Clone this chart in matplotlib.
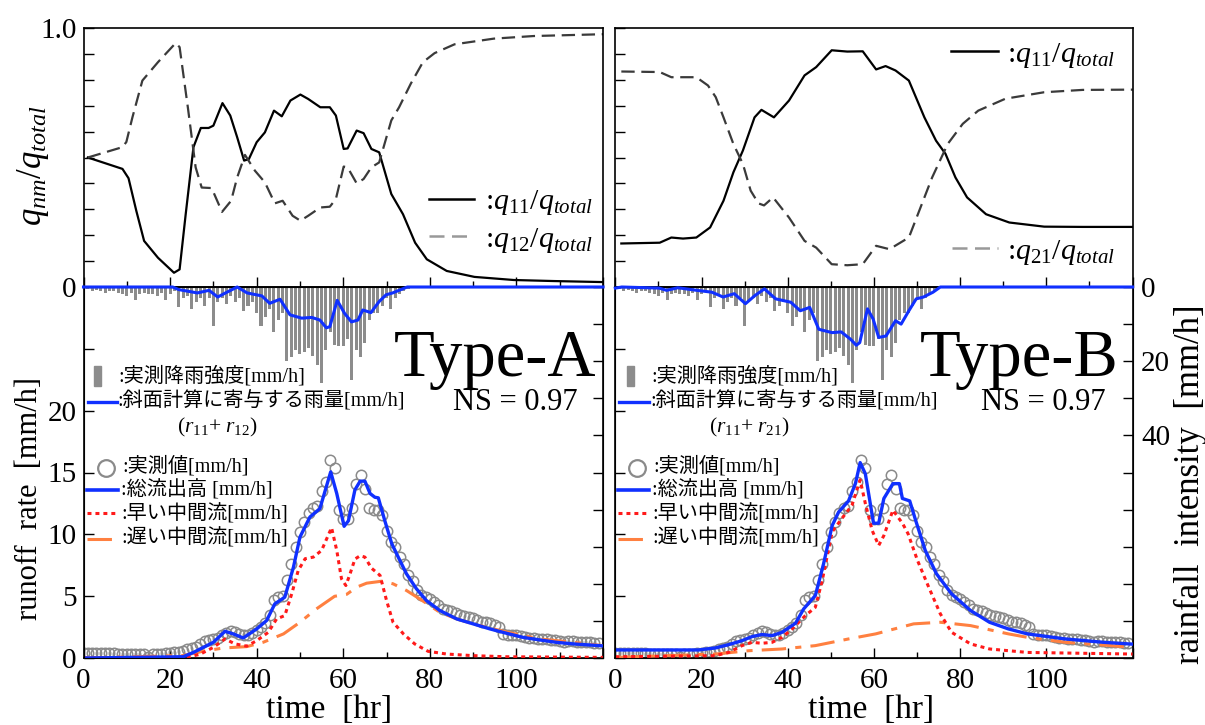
import numpy as np
import matplotlib
matplotlib.use('Agg')
import matplotlib.pyplot as plt
from matplotlib.patches import Rectangle

plt.rcParams['font.family'] = ['Liberation Serif', 'Noto Sans CJK JP']
plt.rcParams['mathtext.fontset'] = 'custom'
plt.rcParams['mathtext.rm'] = 'Liberation Serif'
plt.rcParams['mathtext.it'] = 'Liberation Serif:italic'
plt.rcParams['mathtext.bf'] = 'Liberation Serif:bold'

# ---- 流出成分の比率 (上段) ----
tA_q11 = [1, 9, 10.4, 12.2, 14, 17.2, 20.9, 22.2, 23.6, 25.4, 27.1, 28.9, 30, 32.1, 33.9, 35.5, 37.1, 38.2, 40, 41.9,
          44, 45.8, 47.8, 50.1, 51.9, 54.7, 56.9, 58.3, 60.1, 61, 63.1, 64.7, 66.5, 68.3, 71.1, 72, 73.8, 76.6, 79.3, 83.9,
          90.3, 99.4, 108.6, 120]
q11A = [0.50, 0.456, 0.42, 0.294, 0.178, 0.113, 0.055, 0.068, 0.28, 0.54, 0.614, 0.614, 0.623, 0.71, 0.662, 0.578, 0.488, 0.494, 0.559, 0.597,
        0.681, 0.659, 0.72, 0.743, 0.726, 0.694, 0.694, 0.662, 0.533, 0.535, 0.604, 0.594, 0.533, 0.52, 0.359, 0.333, 0.281, 0.171, 0.107, 0.062,
        0.039, 0.027, 0.023, 0.019]
tA_q12 = [1, 9, 9.9, 11.3, 13.6, 17.2, 21.3, 22.2, 24.1, 25.9, 27.3, 29.6, 32, 34.1, 35.5, 37.3, 39.6, 41.9, 44.2, 46,
          48.3, 50.1, 51.9, 54.7, 56.9, 58.3, 60.1, 61, 63.1, 64.7, 66.5, 68.3, 71.1, 72.9, 75.6, 78.4, 81.1, 85.7, 94.8, 104, 120]
q12A = [0.50, 0.54, 0.56, 0.655, 0.797, 0.868, 0.942, 0.926, 0.694, 0.462, 0.384, 0.382, 0.29, 0.333, 0.423, 0.51, 0.449, 0.404, 0.323, 0.333,
        0.275, 0.256, 0.275, 0.307, 0.31, 0.34, 0.465, 0.462, 0.4, 0.417, 0.462, 0.481, 0.643, 0.694, 0.785, 0.868, 0.903, 0.937, 0.959, 0.969, 0.976]

tB_q11 = [1.4, 10.3, 13, 15.7, 18.8, 22, 25.1, 27.4, 29.6, 32.3, 33.9, 36.8, 40.3, 43.9, 46.6, 50.2, 53.8, 57.4, 60.5, 62.7,
          65, 68.1, 71.7, 74.4, 76.6, 78.9, 81.6, 86, 91.4, 99.5, 108.4, 120]
q11B = [0.168, 0.171, 0.191, 0.187, 0.191, 0.23, 0.333, 0.443, 0.527, 0.655, 0.684, 0.655, 0.72, 0.817, 0.849, 0.914, 0.909, 0.91, 0.84, 0.853,
        0.836, 0.797, 0.655, 0.565, 0.514, 0.423, 0.346, 0.281, 0.249, 0.233, 0.232, 0.232]
tB_q21 = [1.4, 10.3, 13, 18.8, 21.5, 23.3, 25.1, 27.4, 29.6, 31.4, 33.2, 34.5, 36.6, 40.3, 43.9, 46.6, 50.2, 53.8, 57.4, 60.5,
          63.6, 68.1, 70.8, 73.5, 77.1, 80.6, 84.2, 90.5, 99.5, 108.4, 120]
q21B = [0.832, 0.83, 0.81, 0.81, 0.778, 0.733, 0.655, 0.552, 0.475, 0.372, 0.323, 0.315, 0.346, 0.268, 0.178, 0.152, 0.088, 0.084, 0.088, 0.159,
        0.146, 0.191, 0.307, 0.423, 0.552, 0.63, 0.681, 0.727, 0.752, 0.761, 0.762]

# ---- 降雨 ----
rain_obs = [0.5, 0.5, 1.0, 0.8, 1.0, 1.5, 1.2, 1.0, 1.5, 2.0,
            2.5, 1.5, 3.5, 2.0, 1.5, 2.0, 2.0, 2.5, 1.5, 3.5,
            2.0, 1.0, 5.5, 3.0, 2.5, 6.0, 4.0, 3.0, 5.0, 3.0,
            10.5, 4.0, 3.0, 4.5, 2.5, 4.0, 3.0, 6.5, 5.0, 4.0,
            7.0, 10.5, 8.0, 6.0, 12.0, 9.0, 7.0, 20.0, 19.0, 17.0,
            18.0, 17.5, 16.5, 18.5, 21.0, 26.0, 17.0, 12.0, 15.5, 16.0,
            16.0, 14.0, 25.0, 17.0, 19.0, 15.0, 9.0, 7.0, 7.0, 5.0,
            3.0, 6.0, 3.0, 2.0, 1.0, 0.5]
t_rain = np.arange(len(rain_obs))

tA_r = [0, 20.6, 22, 24.4, 26.3, 29, 31, 32.8, 35.5, 37.8, 41.2, 43, 45.4, 47.7, 50.4, 52.7, 54.6, 56.1, 56.9, 58.6,
        60.3, 61.9, 63.4, 64.5, 66.4, 68.3, 69.9, 71.4, 73.3, 74.8, 120]
rA = [0, 0, 0.7, 1.2, 1.6, 0.9, 2.7, 1.6, 0, 1.6, 2.4, 4.4, 3.3, 7.5, 8.4, 8.2, 8.9, 11, 10.7, 3.6,
      7.1, 9.4, 8.9, 6.2, 6.9, 3.9, 2.1, 1.6, 0.7, 0, 0]
tB_r = [0, 1.5, 10.2, 11.9, 14.5, 18.9, 22.4, 25, 27.6, 30.2, 32.4, 34.6, 37.2, 40.7, 42.9, 45.1, 47.2, 50.3, 52.4, 54.6,
        55.9, 56.7, 58.5, 59.8, 61.1, 62.8, 65, 66.3, 68.1, 69.8, 71.5, 73.7, 75.4, 120]
rB = [0.3, 0, 0.3, 0.9, 0.2, 0.9, 1.4, 2.7, 1.8, 4.5, 2.3, 0.5, 3.2, 4.1, 6.4, 5.5, 11.4, 12.3, 12.1, 14.1,
      15.7, 15, 5.9, 8.6, 13.6, 13.2, 9.1, 10, 6.4, 3.2, 2.7, 1.4, 0, 0]

# ---- 流出高 ----
q_obs = [0.4, 0.4, 0.4, 0.4, 0.4, 0.4, 0.4, 0.4, 0.35, 0.35,
         0.35, 0.35, 0.3, 0.3, 0.3, 0.1, 0.3, 0.35, 0.35, 0.4,
         0.4, 0.45, 0.5, 0.6, 0.7, 0.8, 0.9, 1.1, 1.35, 1.45,
         1.5, 1.6, 1.85, 2.0, 2.15, 2.1, 1.95, 1.9, 1.9, 2.0,
         2.25, 2.5, 2.8, 3.5, 4.7, 4.9, 5.0, 6.3, 7.6, 9.0,
         10.2, 11.0, 11.7, 12.1, 12.3, 13.5, 14.2, 16.0, 15.4, 12.0,
         11.2, 11.2, 12.1, 14.1, 14.8, 13.7, 12.1, 12.0, 12.0, 11.6,
         10.3, 9.4, 9.0, 8.2, 7.6, 6.7, 6.2, 5.5, 5.1, 4.9,
         4.8, 4.5, 4.25, 4.0, 3.9, 3.8, 3.6, 3.5, 3.4, 3.3,
         3.2, 3.05, 2.95, 2.9, 2.8, 2.7, 2.5, 1.95, 1.9, 1.9,
         1.9, 1.8, 1.7, 1.65, 1.6, 1.55, 1.5, 1.5, 1.45, 1.45,
         1.4, 1.3, 1.35, 1.4, 1.3, 1.3, 1.27, 1.27, 1.25, 1.25]
t_obs = np.arange(len(q_obs))

tA_tot = [0, 23, 25.4, 27.7, 30, 32.7, 34.6, 36.9, 40, 42.3, 44.2, 46.5, 48.5, 50, 52.3, 54.6, 57.1, 58.5, 60.2, 61.2,
          62.7, 63.9, 65, 66.2, 67.3, 68.1, 69.6, 71.2, 72.7, 74.6, 76.9, 79.2, 82.3, 86.2, 90, 93.9, 97.7, 101.5, 105.4, 109.2,
          113.1, 120]
totA = [0, 0.1, 0.45, 0.86, 1.27, 2.16, 1.95, 1.62, 2.35, 3.03, 4.38, 4.92, 7.35, 9.78, 11.4, 12.08, 15.05, 13.3, 10.65, 11.1,
        13.6, 14.3, 14.3, 13.3, 13.0, 12.95, 11.1, 9.25, 8.16, 6.81, 5.6, 4.65, 3.84, 3.16, 2.76, 2.35, 2.0, 1.67, 1.46, 1.27,
        1.14, 0.98]
tA_fast = [0, 23.8, 26.9, 30, 32.7, 35, 37.7, 40, 42.7, 44.6, 46.5, 48.1, 49.6, 51.2, 53.1, 55, 57.3, 58.5, 59.6, 60.6,
           61.5, 62.7, 63.9, 65, 66.5, 68.5, 70, 71.5, 73.9, 76.5, 79.6, 83.9, 90, 97.7, 120]
fastA = [0, 0.05, 0.3, 0.86, 1.54, 1.14, 0.96, 1.4, 2.08, 3.16, 3.43, 5.19, 7.08, 8.03, 8.16, 8.7, 10.54, 8.7, 6.4, 5.86,
         6.73, 8.0, 8.27, 8.16, 7.27, 6.68, 4.65, 2.89, 1.95, 1.14, 0.54, 0.32, 0.19, 0.1, 0.05]
tA_slow = [0, 23, 27.7, 32.3, 37.7, 41.5, 46.2, 50, 53.8, 58, 60.8, 63.1, 65.4, 68.9, 71.5, 74.6, 78.5, 82.3, 86.2, 90,
           97.7, 105.4, 113.1, 120]
slowA = [0, 0.2, 0.55, 0.81, 0.92, 1.27, 1.95, 2.89, 3.97, 4.99, 5.15, 5.73, 6.05, 6.21, 6.0, 5.46, 4.59, 3.7, 3.16, 2.76,
         2.1, 1.54, 1.27, 1.0]

tB_tot = [0, 19.3, 23.2, 26.3, 29.4, 31.7, 34, 36.4, 38.7, 41.8, 43.7, 46.4, 48.3, 50.3, 51.8, 54.1, 55.7, 56.8, 58, 59.9,
          61.1, 62.3, 64.4, 65.9, 66.6, 68.3, 69.7, 71.9, 74.5, 78, 82.4, 86.8, 91.2, 95.6, 104.4, 113.2, 120]
totB = [0.65, 0.65, 0.81, 1.08, 1.4, 1.73, 1.9, 1.81, 2.08, 2.81, 3.97, 5.05, 7.6, 10.7, 11.8, 12.7, 14.1, 15.8, 14.9, 10.9,
        10.9, 12.9, 14.1, 14.1, 12.9, 12.7, 11.1, 8.7, 6.81, 5.19, 3.84, 2.89, 2.35, 1.95, 1.54, 1.27, 1.12]
tB_fast = [0, 23.2, 26.3, 29.4, 31.7, 34, 36.4, 38.7, 41, 44.1, 46.4, 48, 50.3, 52.6, 54.9, 56.8, 58, 59.6, 61.1, 62.3,
           64.4, 66.6, 67.9, 70.1, 72.7, 75.4, 78, 82.4, 86.8, 95.6, 120]
fastB = [0.1, 0.19, 0.45, 1.0, 1.27, 1.19, 1.27, 1.67, 2.35, 3.43, 4.1, 6.27, 10.2, 11.3, 12.35, 14.4, 12.5, 10.3, 9.1, 9.9,
         11.95, 10.9, 10.06, 7.89, 5.73, 3.57, 2.08, 1.14, 0.73, 0.45, 0.32]
tB_slow = [0, 23.2, 31, 38.7, 46.4, 54.1, 60.4, 69.2, 75.4, 82.4, 91.2, 95.6, 104.4, 113.2, 120]
slowB = [0.05, 0.32, 0.59, 0.73, 1.0, 1.54, 1.95, 2.76, 2.89, 2.62, 1.95, 1.67, 1.27, 1.05, 0.86]

BLUE = '#1030ff'
RED = '#ff1a1a'
ORANGE = '#ff8040'
GRAY = '#8a8a8a'
BAR = '#8c8c8c'
FS_TICK = 21
FS_LEG = 14.5

W, H = 1205, 725
fig = plt.figure(figsize=(W / 100, H / 100), dpi=100)


def box(x0, x1, ytop, ybot):
    return [x0 / W, 1 - ybot / H, (x1 - x0) / W, (ybot - ytop) / H]


def style_x(ax, labels):
    ax.set_xlim(0, 120)
    ax.set_xticks(np.arange(0, 121, 20))
    ax.set_xticks(np.arange(0, 121, 10), minor=True)
    ax.tick_params(axis='x', which='both', direction='in', top=False, labelbottom=labels,
                   labelsize=FS_TICK, pad=7)
    ax.tick_params(axis='x', which='major', length=7, width=1)
    ax.tick_params(axis='x', which='minor', length=4, width=1)
    if labels:
        ax.set_xticklabels(['0', '20', '40', '60', '80', '100', ''])
    for s in ax.spines.values():
        s.set_linewidth(1.2)


def ratio_panel(ax, t1, v1, t2, v2, show_labels):
    ax.plot(t1, v1, color='black', lw=1.6)
    ax.plot(t2, v2, color='#3a3a3a', lw=1.6, dashes=(6, 3))
    ax.set_ylim(0, 1)
    ax.set_yticks(np.arange(0, 1.01, 0.1))
    ax.tick_params(axis='y', direction='in', length=7, width=1, labelsize=FS_TICK, pad=5,
                   labelleft=show_labels, right=False)
    if show_labels:
        ax.set_yticklabels(['0'] + [''] * 9 + ['1.0'])
    style_x(ax, False)


def runoff_panel(ax, ax2, t_tot, tot, t_fast, fast, t_slow, slow, t_r, r, left_labels, right_labels):
    ax.plot(t_obs, q_obs, 'o', ms=7.5, mfc='none', mec=GRAY, mew=1.1, zorder=2)
    ax.plot(t_slow, slow, color=ORANGE, lw=2.2, dashes=(8, 3, 2, 3), zorder=3)
    ax.plot(t_fast, fast, color=RED, lw=2.2, dashes=(1.3, 1.3), zorder=4)
    ax.plot(t_tot, tot, color=BLUE, lw=2.4, zorder=5)
    ax.set_ylim(0, 30)
    ax.set_yticks(np.arange(0, 31, 5))
    ax.tick_params(axis='y', direction='in', length=7, width=1, labelsize=FS_TICK, pad=5,
                   labelleft=left_labels)
    if left_labels:
        ax.set_yticklabels(['0', '5', '10', '15', '20', '', ''])
    style_x(ax, True)

    ax2.bar(t_rain, rain_obs, width=0.7, color=BAR, zorder=2)
    ax2.plot(t_r, r, color=BLUE, lw=2.2, zorder=4, clip_on=False)
    ax2.set_ylim(100, 0)
    ax2.set_yticks(np.arange(0, 101, 10))
    ax2.tick_params(axis='y', direction='in', length=7, width=1, labelsize=FS_TICK, pad=6,
                    labelright=right_labels)
    if right_labels:
        ax2.set_yticklabels(['0', '', '20', '', '40', '', '', '', '', '', ''])
    ax2.set_xlim(0, 120)


axTL = fig.add_axes(box(83.5, 603, 28, 287))
axBL = fig.add_axes(box(83.5, 603, 287, 658))
axTR = fig.add_axes(box(615.3, 1132.6, 28, 287))
axBR = fig.add_axes(box(615.3, 1132.6, 287, 658))
axBL2 = axBL.twinx()
axBR2 = axBR.twinx()

ratio_panel(axTL, tA_q11, q11A, tA_q12, q12A, True)
ratio_panel(axTR, tB_q11, q11B, tB_q21, q21B, False)
runoff_panel(axBL, axBL2, tA_tot, totA, tA_fast, fastA, tA_slow, slowA, tA_r, rA, True, False)
runoff_panel(axBR, axBR2, tB_tot, totB, tB_fast, fastB, tB_slow, slowB, tB_r, rB, False, True)

# ---- 上段の凡例 ----
FS_Q = 21.5
axTL.plot([0.665, 0.752], [0.34, 0.34], color='black', lw=1.8, transform=axTL.transAxes)
axTL.text(0.772, 0.325, r':$q_{\mathit{11}}/q_{total}$', transform=axTL.transAxes, fontsize=FS_Q, va='center')
axTL.plot([0.665, 0.752], [0.198, 0.198], color='#999999', lw=1.8, dashes=(6, 3), transform=axTL.transAxes)
axTL.text(0.772, 0.18, r':$q_{\mathit{12}}/q_{total}$', transform=axTL.transAxes, fontsize=FS_Q, va='center')

axTR.plot([0.648, 0.739], [0.912, 0.912], color='black', lw=1.8, transform=axTR.transAxes)
axTR.text(0.757, 0.895, r':$q_{\mathit{11}}/q_{total}$', transform=axTR.transAxes, fontsize=FS_Q, va='center')
axTR.plot([0.65, 0.74], [0.149, 0.149], color='#999999', lw=1.8, dashes=(6, 3), transform=axTR.transAxes)
axTR.text(0.757, 0.132, r':$q_{\mathit{21}}/q_{total}$', transform=axTR.transAxes, fontsize=FS_Q, va='center')

# ---- 下段の注記 ----
panels = [(axBL2, axBL, 'Type-A', '12', 0.0205, 0.068, 0.257, 0.988, 0.952, 0.044, 0.074),
          (axBR2, axBR, 'Type-B', '21', 0.0226, 0.07, 0.26, 0.973, 0.947, 0.041, 0.073)]
for ax2, ax, name, sub, bx, tx, rx, typex, nsx, cx, ltx in panels:
    tr = ax2.transAxes
    ax2.add_patch(Rectangle((bx, 0.732), 0.013, 0.055, transform=tr, color=BAR, zorder=5))
    ax2.text(tx, 0.76, ':実測降雨強度[mm/h]', transform=tr, fontsize=FS_LEG, va='center')
    ax2.plot([0.008, 0.065], [0.691, 0.691], color=BLUE, lw=2.4, transform=tr)
    ax2.text(tx - 0.002, 0.691, ':斜面計算に寄与する雨量[mm/h]', transform=tr, fontsize=FS_LEG, va='center')
    ax2.text(rx, 0.622, r'($r_{\mathit{11}}$+ $r_{\mathit{%s}}$)' % sub, transform=tr,
             fontsize=15.5, ha='center', va='center')
    ax2.text(typex, 0.805, name, transform=tr, fontsize=48, ha='right', va='center')
    ax2.text(nsx, 0.69, 'NS = 0.97', transform=tr, fontsize=22, ha='right', va='center')

    trb = ax.transAxes
    ax.plot([cx], [0.513], 'o', ms=12, mfc='none', mec=GRAY, mew=1.6, transform=trb)
    ax.text(ltx, 0.516, ':実測値[mm/h]', transform=trb, fontsize=FS_LEG, va='center')
    ax.plot([0.006, 0.066], [0.453, 0.453], color=BLUE, lw=2.6, transform=trb)
    ax.text(ltx - 0.002, 0.453, ':総流出高 [mm/h]', transform=trb, fontsize=FS_LEG, va='center')
    ax.plot([0.006, 0.066], [0.392, 0.392], color=RED, lw=2.2, dashes=(1.3, 1.3), transform=trb)
    ax.text(ltx - 0.002, 0.388, ':早い中間流[mm/h]', transform=trb, fontsize=FS_LEG, va='center')
    ax.plot([0.006, 0.066], [0.321, 0.321], color=ORANGE, lw=2.2, dashes=(8, 3, 2, 3), transform=trb)
    ax.text(ltx - 0.002, 0.323, ':遅い中間流[mm/h]', transform=trb, fontsize=FS_LEG, va='center')

# ---- 軸ラベル ----
fig.text(33 / W, 1 - 165 / H, r'$q_{nm}/q_{total}$', fontsize=25, rotation=90, ha='center', va='center')
fig.text(30 / W, 1 - 498 / H, 'runoff  rate  [mm/h]', fontsize=22, rotation=90, ha='center', va='center')
fig.text(1190 / W, 1 - 484 / H, 'rainfall  intensity  [mm/h]', fontsize=25, rotation=90, ha='center', va='center')
fig.text(329 / W, 1 - 710 / H, 'time  [hr]', fontsize=24, ha='center', va='center')
fig.text(871 / W, 1 - 710 / H, 'time  [hr]', fontsize=24, ha='center', va='center')

fig.savefig('out.png', dpi=100)
